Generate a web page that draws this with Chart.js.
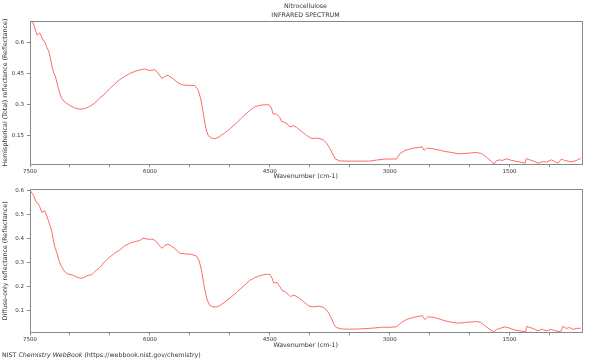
<!DOCTYPE html>
<html><head><meta charset="utf-8">
<script src="https://cdn.jsdelivr.net/npm/chart.js@4.4.0/dist/chart.umd.min.js"></script>
<style>
html,body{margin:0;padding:0;background:#fff;}
#wrap{position:relative;width:600px;height:360px;overflow:hidden;font-family:"DejaVu Sans",sans-serif;color:#333;}
.box{position:absolute;left:0;width:600px;height:180px;}
.t{position:absolute;left:0;width:611px;text-align:center;font-size:6.3px;line-height:1;white-space:nowrap;}
#foot{position:absolute;left:2px;top:352px;font-size:6.3px;line-height:1;white-space:nowrap;}
</style></head><body>
<div id="wrap">
<div class="box" style="top:0"><canvas id="c1"></canvas></div>
<div class="box" style="top:180px"><canvas id="c2"></canvas></div>
<div class="t" style="top:3px">Nitrocellulose</div>
<div class="t" style="top:12px">INFRARED SPECTRUM</div>
<div id="foot">NIST <i>Chemistry WebBook</i> (https://webbook.nist.gov/chemistry)</div>
</div>
<script>
const xLabel = 'Wavenumber (cm-1)';
const topYLabel = 'Hemispherical (Total) reflectance (Reflectance)';
const bottomYLabel = 'Diffuse-only reflectance (Reflectance)';
const xTickValues = [7500,7000,6500,6000,5500,5000,4500,4000,3500,3000,2500,2000,1500,1000];
const xTickLabels = ['7500','','','6000','','','4500','','','3000','','','1500',''];
const topYTicks = [0.15,0.3,0.45,0.6];
const bottomYTicks = [0.1,0.2,0.3,0.4,0.5,0.6];

const topWavenumber = [7500,7462,7441,7412,7379,7357,7337,7316,7295,7266,7245,7225,7203,7182,7162,7141,7107,7066,7003,6941,6878,6815,6753,6690,6628,6565,6503,6440,6377,6315,6252,6190,6127,6065,6002,5939,5898,5848,5814,5773,5710,5648,5585,5501,5439,5397,5367,5342,5322,5301,5272,5230,5188,5147,5085,5001,4917,4834,4750,4688,4625,4563,4509,4479,4459,4416,4375,4354,4312,4271,4250,4208,4166,4103,4041,3978,3896,3833,3791,3749,3708,3678,3624,3520,3395,3249,3165,3061,2977,2914,2873,2810,2727,2644,2594,2569,2539,2477,2394,2310,2226,2143,2060,1976,1914,1851,1788,1726,1693,1663,1622,1593,1538,1497,1434,1372,1309,1289,1247,1205,1143,1080,1040,977,935,895,852,810,748,707,665,610];
const topReflectance = [0.705,0.698,0.672,0.636,0.647,0.631,0.61,0.606,0.582,0.558,0.525,0.485,0.452,0.436,0.404,0.371,0.331,0.311,0.295,0.282,0.277,0.279,0.29,0.306,0.331,0.35,0.376,0.399,0.42,0.436,0.45,0.46,0.467,0.472,0.464,0.469,0.452,0.425,0.436,0.441,0.425,0.404,0.394,0.392,0.391,0.371,0.331,0.282,0.233,0.185,0.149,0.136,0.132,0.139,0.155,0.18,0.209,0.241,0.27,0.288,0.295,0.298,0.298,0.282,0.253,0.254,0.236,0.217,0.212,0.201,0.19,0.196,0.188,0.168,0.149,0.134,0.136,0.128,0.112,0.087,0.055,0.034,0.025,0.024,0.024,0.024,0.029,0.034,0.034,0.035,0.06,0.076,0.085,0.09,0.094,0.076,0.087,0.085,0.079,0.071,0.066,0.06,0.061,0.064,0.066,0.061,0.043,0.022,0.01,0.026,0.03,0.027,0.035,0.03,0.024,0.02,0.014,0.036,0.03,0.025,0.014,0.022,0.019,0.03,0.022,0.014,0.034,0.027,0.022,0.022,0.027,0.038];

const bottomWavenumber = [7500,7475,7450,7429,7400,7379,7350,7316,7295,7266,7232,7212,7191,7162,7141,7107,7066,7024,6962,6899,6857,6815,6774,6732,6690,6628,6565,6503,6440,6377,6315,6252,6190,6127,6086,6023,5961,5919,5877,5848,5814,5773,5710,5626,5564,5481,5418,5385,5355,5334,5313,5284,5250,5197,5147,5085,5001,4917,4834,4750,4688,4604,4541,4500,4471,4450,4409,4375,4346,4304,4271,4241,4200,4158,4096,4041,4012,3958,3874,3820,3778,3737,3696,3666,3603,3499,3374,3227,3102,2998,2914,2852,2789,2706,2623,2594,2560,2526,2456,2373,2310,2226,2143,2060,1976,1914,1860,1801,1747,1697,1663,1622,1559,1497,1434,1372,1301,1284,1247,1205,1143,1093,1040,977,915,861,832,790,748,707,665,610];
const bottomReflectance = [0.603,0.59,0.578,0.555,0.548,0.534,0.509,0.517,0.499,0.472,0.437,0.402,0.367,0.34,0.312,0.284,0.263,0.253,0.248,0.238,0.235,0.24,0.248,0.249,0.263,0.28,0.305,0.323,0.34,0.353,0.37,0.381,0.388,0.392,0.402,0.398,0.398,0.388,0.37,0.36,0.372,0.377,0.365,0.34,0.337,0.335,0.328,0.309,0.27,0.228,0.187,0.145,0.122,0.115,0.117,0.131,0.152,0.176,0.201,0.226,0.238,0.248,0.252,0.251,0.235,0.215,0.218,0.201,0.184,0.178,0.169,0.159,0.165,0.159,0.143,0.128,0.12,0.116,0.119,0.112,0.098,0.074,0.042,0.03,0.024,0.023,0.024,0.027,0.031,0.031,0.033,0.051,0.063,0.072,0.077,0.08,0.063,0.074,0.073,0.065,0.058,0.052,0.048,0.051,0.053,0.055,0.051,0.035,0.022,0.011,0.022,0.026,0.033,0.027,0.019,0.016,0.012,0.035,0.03,0.026,0.016,0.023,0.016,0.022,0.015,0.012,0.035,0.026,0.03,0.022,0.026,0.027];

const FAMILY = '"DejaVu Sans", sans-serif';
const TEXT = '#333';
const AXIS = '#888';

const frame = {
  id: 'frame',
  afterDraw(chart) {
    const {ctx, chartArea: a} = chart;
    ctx.save();
    ctx.strokeStyle = AXIS;
    ctx.lineWidth = 1;
    ctx.strokeRect(Math.round(a.left) + 0.5, Math.round(a.top) + 0.5,
                   Math.round(a.right - a.left), Math.round(a.bottom - a.top));
    ctx.restore();
  }
};

function makeChart(id, xs, ys, yTicks, yLabel, yMin, yMax, pad, xH) {
  return new Chart(document.getElementById(id), {
    type: 'line',
    data: {
      datasets: [{
        data: xs.map((x, i) => ({x: x, y: ys[i]})),
        borderColor: 'rgb(255,105,105)',
        borderWidth: 1,
        pointRadius: 0,
        tension: 0,
        fill: false
      }]
    },
    options: {
      responsive: true,
      maintainAspectRatio: false,
      animation: false,
      devicePixelRatio: 1,
      layout: {padding: pad},
      plugins: {legend: {display: false}, tooltip: {enabled: false}},
      scales: {
        x: {
          type: 'linear', reverse: true, min: 600, max: 7500,
          afterFit(s) { s.height = xH; },
          afterBuildTicks(s) { s.ticks = xTickValues.map(v => ({value: v})); },
          ticks: {
            autoSkip: false, maxRotation: 0, padding: 1,
            color: TEXT, font: {size: 5.5, family: FAMILY},
            callback: (v) => { const i = xTickValues.indexOf(v); return i >= 0 ? xTickLabels[i] : ''; }
          },
          grid: {drawOnChartArea: false, tickLength: 3, color: AXIS},
          border: {display: false},
          title: {display: true, text: xLabel, color: TEXT, font: {size: 6.3, family: FAMILY}, padding: 0}
        },
        y: {
          type: 'linear', min: yMin, max: yMax,
          afterFit(s) { s.width = 30; },
          afterBuildTicks(s) { s.ticks = yTicks.map(v => ({value: v})); },
          ticks: {
            autoSkip: false, padding: 3,
            color: TEXT, font: {size: 5.5, family: FAMILY},
            callback: (v) => String(v)
          },
          grid: {drawOnChartArea: false, tickLength: 3, color: AXIS},
          border: {display: false},
          title: {display: true, text: yLabel, color: TEXT, font: {size: 6.3, family: FAMILY}, padding: {top: 1.5, bottom: 0}}
        }
      }
    },
    plugins: [frame]
  });
}

makeChart('c1', topWavenumber, topReflectance, topYTicks, topYLabel, 0.01, 0.705,
  {top: 21, right: 18.5, bottom: 0, left: 0}, 16);
makeChart('c2', bottomWavenumber, bottomReflectance, bottomYTicks, bottomYLabel, 0.01, 0.606,
  {top: 9.3, right: 18.5, bottom: 10.4, left: 0}, 17.3);
</script>
</body></html>
